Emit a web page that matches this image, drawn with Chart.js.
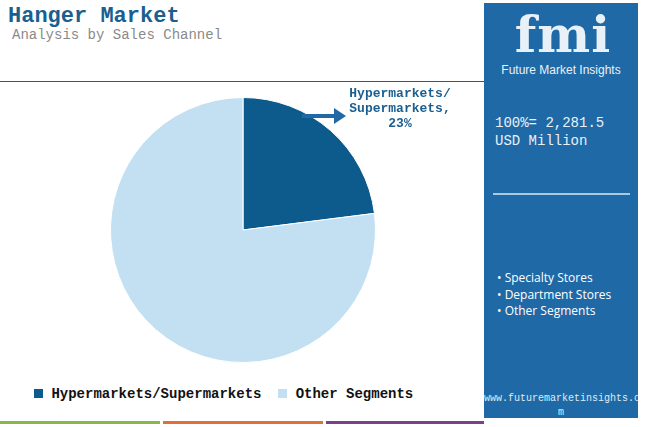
<!DOCTYPE html>
<html><head><meta charset="utf-8">
<script src="https://cdn.jsdelivr.net/npm/chart.js@4"></script>
<style>
body{margin:0;width:650px;height:427px;background:#fff;position:relative;overflow:hidden;font-family:"Liberation Mono","DejaVu Sans Mono",monospace}
.abs{position:absolute}
</style></head><body>
<div class="abs" style="left:8px;top:4px;font:bold 22px 'Liberation Mono',monospace;color:#1a5f8f">Hanger Market</div>
<div class="abs" style="left:12px;top:27px;font:14px 'Liberation Mono',monospace;color:#8a8a8a">Analysis by Sales Channel</div>
<div class="abs" style="left:0;top:81px;width:484px;height:1px;background:#1a5f8f"></div>
<div class="abs" style="left:484px;top:3px;width:154px;height:415px;background:#1f69a6"></div>
<div class="abs" style="left:503px;top:10px;width:120px;text-align:center;font:bold 50px 'DejaVu Serif',serif;color:#e8f1f8;letter-spacing:1px;line-height:50px">fmi</div>
<div class="abs" style="left:484px;top:63px;width:154px;text-align:center;font:12px 'Liberation Sans',sans-serif;color:#e8f1f8">Future Market Insights</div>
<div class="abs" style="left:495px;top:114px;font:14px 'Liberation Mono',monospace;color:#e8f1f8;line-height:18px">100%= 2,281.5<br>USD Million</div>
<div class="abs" style="left:493px;top:193px;width:137px;height:2px;background:#a9c8e2"></div>
<div class="abs" style="left:497px;top:270px;font:12px 'Open Sans',sans-serif;color:#fff;line-height:16.5px">• Specialty Stores<br>• Department Stores<br>• Other Segments</div>
<div class="abs" style="left:484px;top:392px;width:154px;text-align:center;font:10px 'Liberation Mono',monospace;color:#dfe9f3;line-height:14px;white-space:nowrap;overflow:hidden">www.futuremarketinsights.co<br>m</div>
<div class="abs" style="left:0;top:421px;width:160px;height:3px;background:#8ab848"></div>
<div class="abs" style="left:163px;top:421px;width:160px;height:3px;background:#e0703a"></div>
<div class="abs" style="left:326px;top:421px;width:158px;height:3px;background:#7b3f8f"></div>
<div class="abs" style="left:0;top:97px;width:486px;height:266px"><canvas id="c"></canvas></div>
<svg class="abs" style="left:300px;top:104px" width="50" height="24"><line x1="2" y1="12" x2="36" y2="12" stroke="#1f69a6" stroke-width="4"/><polygon points="34,4 46,12 34,20" fill="#1f69a6"/></svg>
<div class="abs" style="left:340px;top:86px;width:120px;text-align:center;font:bold 13px 'Liberation Mono',monospace;color:#1a5f8f;line-height:15px">Hypermarkets/<br>Supermarkets,<br>23%</div>
<div class="abs" style="left:34px;top:386px;font:bold 14px 'Liberation Mono',monospace;color:#111;white-space:nowrap">
<span style="display:inline-block;width:9px;height:9px;background:#0d5a8c"></span> Hypermarkets/Supermarkets &nbsp;<span style="display:inline-block;width:9px;height:9px;background:#c3e0f2"></span> Other Segments</div>
<script>
const categories=["Hypermarkets/Supermarkets","Other Segments"];
const values=[23,77];
const colors=["#0d5a8c","#c3e0f2"];
new Chart(document.getElementById('c'),{type:'pie',
data:{labels:categories,datasets:[{data:values,backgroundColor:colors,borderColor:'#ffffff',borderWidth:1}]},
options:{responsive:true,maintainAspectRatio:false,animation:false,layout:{padding:0},
plugins:{legend:{display:false},tooltip:{enabled:false}}}});
</script>
</body></html>
